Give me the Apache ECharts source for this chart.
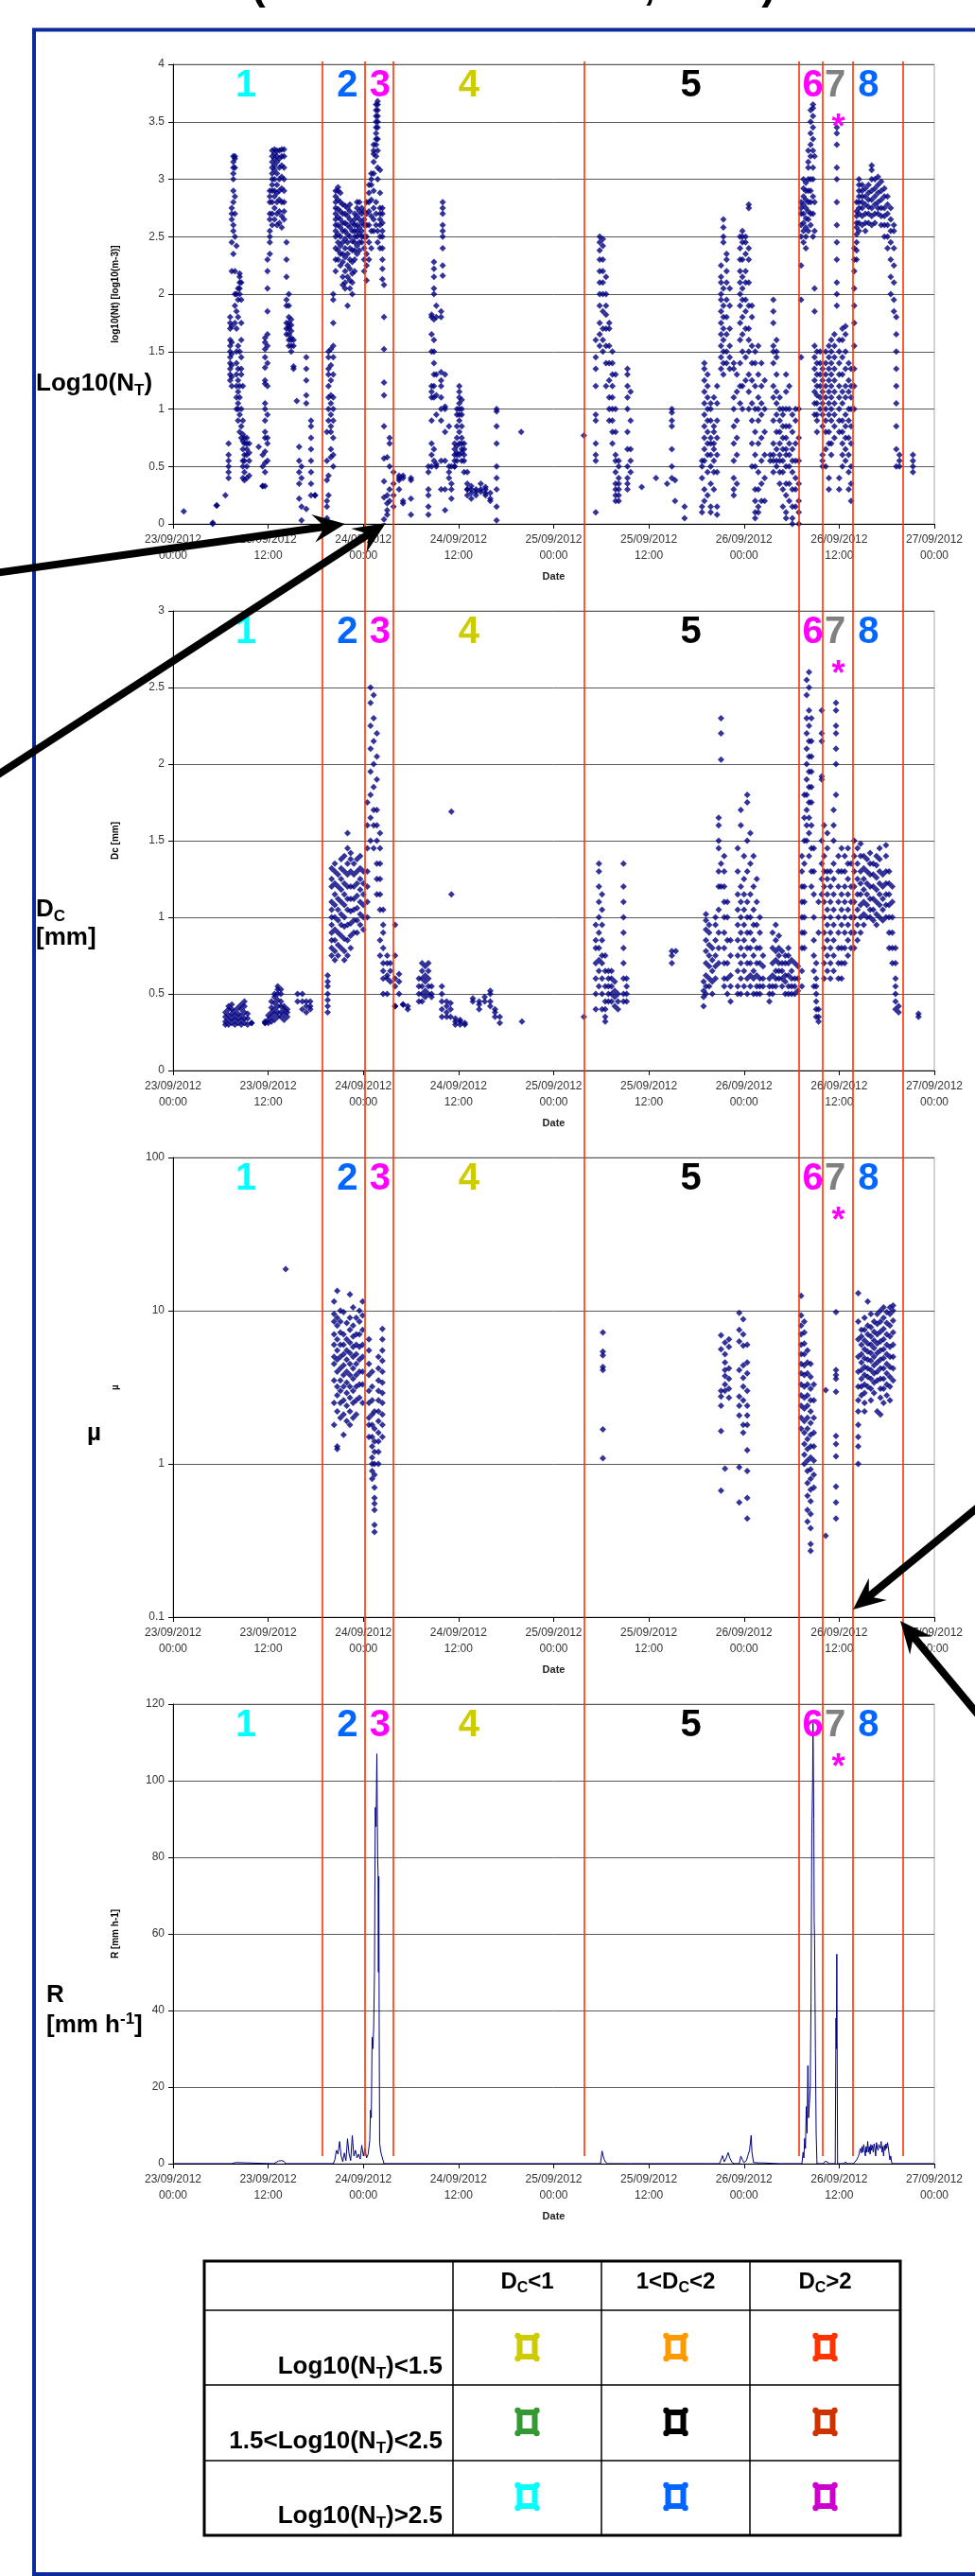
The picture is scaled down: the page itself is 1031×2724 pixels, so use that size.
<!DOCTYPE html>
<html><head><meta charset="utf-8">
<style>html,body{margin:0;padding:0;background:#fff}#c{width:1031px;height:2724px}</style>
<script src="https://cdn.jsdelivr.net/npm/echarts@6/dist/echarts.min.js"></script>
</head><body><div id="c"></div>
<script>
// ---------------- DATA (hours after 23/09/2012 00:00) ----------------
const xTickLabels = ['23/09/2012\n00:00','23/09/2012\n12:00','24/09/2012\n00:00','24/09/2012\n12:00','25/09/2012\n00:00','25/09/2012\n12:00','26/09/2012\n00:00','26/09/2012\n12:00','27/09/2012\n00:00'];
const boundaryTimes = [18.85, 24.2, 27.7, 51.8, 78.9, 81.9, 85.7, 92.0];
const segNames  = ['1','2','3','4','5','6','7','8'];
const segColors = ['#00FFFF','#0066FF','#FF00FF','#CCCC00','#000000','#FF00FF','#808080','#0066FF'];
const segTimes  = [9.2, 22.0, 26.1, 37.3, 65.3, 80.7, 83.5, 87.7];
const starTime = 83.9;

// Log10(NT) columns: [hour, [values]]
const ntCols = [
[1.35,[0.11]],[5.0,[0.0,0.01]],[5.5,[0.16,0.16]],[6.6,[0.25]],
[7.0,[0.4,0.45,0.5,0.55,0.6,0.7]],
[7.2,[1.25,1.3,1.35,1.4,1.45,1.5,1.55,1.6,1.7,1.75,1.8]],
[7.4,[1.2,1.28,1.38,1.48,1.58,1.72,2.2,2.45,2.65,2.7,2.75]],
[7.6,[2.8,2.9,3.0,3.05,3.1,3.15,3.2,2.6,2.55,2.35]],
[7.8,[1.9,2.0,2.2,2.5,2.7,2.85,3.1,3.18,3.2,1.75]],
[8.0,[1.0,1.1,1.2,1.3,1.4,1.5,1.7,1.85,2.0,2.42]],
[8.2,[0.9,1.0,1.05,1.15,1.25,1.35,1.55,1.8,1.95,2.05]],
[8.4,[0.8,0.95,1.1,1.2,1.5,2.0,2.05,2.1,2.15,2.18]],
[8.6,[0.75,0.85,1.0,1.3,1.35,1.45,1.6,1.75,1.95,2.1]],
[8.8,[0.4,0.5,0.55,0.65,0.72,0.78,0.9,1.2]],
[9.0,[0.38,0.45,0.55,0.6,0.7,0.75]],
[9.3,[0.4,0.5,0.6,0.65,0.7,0.75]],
[9.6,[0.42,0.55,0.62,0.7]],
[10.8,[0.67]],[11.3,[0.33,0.33,0.5,0.6]],
[11.6,[0.33,0.45,0.53,0.63,0.75,0.8,0.9,1.0,1.05,1.22,1.25,1.36,1.45,1.52,1.58,1.62]],
[11.9,[0.55,0.7,0.75,0.95,1.2,1.4,1.55,1.65,1.85,2.05,2.2,2.3]],
[12.2,[2.35,2.45,2.5,2.55,2.65,2.7,2.8,2.85,2.9]],
[12.5,[2.6,2.7,2.8,2.9,2.95,3.0,3.05,3.1,3.15,3.2,3.25]],
[12.8,[2.65,2.75,2.85,2.9,3.0,3.08,3.12,3.18,3.22,3.26]],
[13.1,[2.6,2.7,2.8,2.88,2.95,3.05,3.15,3.2,3.25]],
[13.4,[2.62,2.72,2.82,2.9,3.0,3.1,3.18,3.25]],
[13.7,[2.58,2.68,2.8,2.92,3.02,3.12,3.2,3.26]],
[14.0,[2.65,2.72,2.8,2.9,3.0,3.1,3.2,3.26]],
[14.3,[2.45,2.3,2.15,1.95,1.9,1.75,1.7,1.65]],
[14.6,[1.55,1.6,1.65,1.7,1.72,1.75,1.8,1.9,2.0]],
[14.9,[1.5,1.55,1.6,1.62,1.68,1.73,1.78]],
[15.2,[1.35,1.37,1.55,1.6]],[15.6,[1.07]],
[15.9,[0.67,0.55,0.45,0.35,0.22]],[16.2,[0.15,0.03,0.4,0.5]],
[16.8,[1.45,1.35,1.25,1.12,1.05,0.13]],
[17.4,[0.9,0.85,0.75,0.65,0.55,0.45,0.35,0.25]],[17.9,[0.25,0.25]],
[19.4,[0.05,0.15,0.2,0.38,0.55,0.8]],
[19.6,[0.9,1.0,1.1,1.2,1.3,1.35,1.45,1.5,0.42,0.25]],
[19.9,[0.8,0.85,0.95,1.05,1.12,1.25,1.38,1.52,0.58,0.65]],
[20.2,[0.5,0.6,0.75,0.9,1.0,1.1,1.3,1.45,1.55,1.75,1.95,2.0]],
[20.5,[2.2,2.3,2.4,2.5,2.55,2.6,2.65,2.7,2.75,2.8,2.85,2.9]],
[20.8,[2.3,2.38,2.45,2.52,2.6,2.67,2.74,2.82,2.9,2.93]],
[21.1,[2.25,2.35,2.42,2.5,2.58,2.65,2.72,2.8,2.88]],
[21.4,[2.08,2.15,2.28,2.35,2.45,2.55,2.62,2.7,2.78]],
[21.7,[2.05,2.1,2.2,2.32,2.4,2.48,2.55,2.62,2.7,2.77]],
[22.0,[1.9,2.15,2.25,2.35,2.45,2.52,2.6,2.68,2.75]],
[22.3,[2.05,2.12,2.22,2.3,2.4,2.5,2.58,2.65,2.72,2.78]],
[22.6,[2.0,2.1,2.18,2.28,2.38,2.46,2.55,2.62]],
[22.9,[2.2,2.3,2.38,2.45,2.5,2.55,2.6,2.65,2.7]],
[23.2,[2.35,2.42,2.5,2.55,2.6,2.68,2.75,2.8]],
[23.5,[2.38,2.45,2.52,2.58,2.65,2.72,2.8]],
[23.8,[2.45,2.5,2.55,2.62,2.7,2.75]],
[24.1,[2.2,2.3,2.4,2.5,2.6,2.65,2.72]],
[24.4,[2.12,2.25,2.35,2.5,2.6,2.7,2.8]],
[24.7,[2.3,2.45,2.6,2.72,2.8,2.88,2.95]],
[25.0,[2.4,2.55,2.68,2.82,2.95,3.0,3.05]],
[25.3,[2.55,2.65,2.75,2.9,3.05,3.15,3.22,3.25,3.3]],
[25.6,[2.6,2.7,2.8,3.2,3.3,3.35,3.4,3.45,3.5,3.55,3.6,3.65]],
[25.8,[2.45,2.55,3.0,3.1,3.25,3.35,3.45,3.5,3.55,3.6,3.65,3.68]],
[26.1,[2.4,2.5,2.6,2.65,2.7,2.75,2.88,3.08]],
[26.4,[2.13,2.22,2.3,2.4,2.5,2.55,2.62,2.7,2.75]],
[26.6,[2.08,1.8,1.52,1.23,1.12,0.85,0.57,0.37,0.23,0.04]],
[27.0,[0.08,0.12,0.18,0.25,0.58]],[27.3,[0.2,0.3,0.5,0.75,0.7]],
[27.8,[0.15,0.25,0.35,0.45]],[28.5,[0.3,0.38,0.4,0.42]],
[29.0,[0.4,0.42,0.2,0.18]],[30.0,[0.38,0.22,0.08,0.4]],
[32.2,[0.08,0.15,0.25,0.3,0.45,0.5]],
[32.6,[0.5,0.6,0.7,0.9,1.1,1.15,1.2,1.5,1.65,1.8,1.82]],
[32.9,[0.55,0.65,1.1,1.2,1.3,1.4,1.5,1.6,1.78,2.0,2.05,2.15,2.22,2.28]],
[33.2,[0.5,0.52,0.95,1.12,1.3,1.8,1.9]],
[33.8,[0.3,0.55,0.9,1.0,1.1,1.2,1.25,1.32,1.8,1.85]],
[34.0,[2.16,2.25,2.4,2.5,2.55,2.6,2.7,2.75,2.8]],
[34.3,[0.12,0.3,0.55,0.8,1.0,1.02,1.3]],
[34.8,[0.4,0.45,0.5,0.85]],[35.1,[0.22,0.3,0.35,0.5]],
[35.5,[0.5,0.55,0.6,0.65,0.7,0.5]],
[35.8,[0.55,0.6,0.62,0.68,0.75,0.85,0.95,1.0]],
[36.1,[0.6,0.7,0.8,0.9,0.95,1.0,1.05,1.1,1.15,1.2]],
[36.4,[0.55,0.62,0.65,0.7,0.75,0.85,0.95,1.0,1.08]],
[36.7,[0.45,0.55,0.6,0.65,0.7]],
[37.1,[0.25,0.3,0.35,0.3,0.45]],[37.6,[0.22,0.27,0.3,0.33]],
[38.2,[0.25,0.3,0.28]],[38.8,[0.28,0.35,0.3]],[39.4,[0.25,0.3,0.32,0.27]],
[40.0,[0.22,0.27,0.2]],
[40.8,[0.03,0.15,0.3,0.4,0.5,0.7,0.85,0.98,1.0]],
[43.9,[0.8]],[51.8,[0.77]],
[53.3,[0.1,0.55,0.6,0.7,0.9,1.2,1.35,1.45,1.6,0.95]],
[53.8,[1.55,1.65,1.75,1.9,2.0,2.1,2.2,2.3,2.38,2.45,2.5]],
[54.2,[1.5,1.6,1.7,1.85,2.0,2.1,2.2,2.3,2.42,2.48]],
[54.6,[1.2,1.4,1.55,1.7,1.82,1.9,2.0,2.15]],
[55.0,[0.9,1.0,1.1,1.25,1.4,1.55,1.7,1.75]],
[55.4,[0.7,0.8,0.9,1.0,1.1,1.2,1.3,1.4,1.5]],
[55.8,[0.2,0.25,0.3,0.35,0.45,0.55,0.6,0.8,1.0,1.3]],
[56.2,[0.2,0.25,0.3,0.35,0.4,0.5,0.55]],
[57.3,[0.3,0.35,0.4,0.5,0.65,0.8,1.0,1.1,1.2,1.3,1.35]],
[57.7,[0.45,0.55,0.65,0.9,1.15]],
[59.1,[0.32]],[60.9,[0.4]],[62.3,[0.35]],
[62.9,[0.4,0.5,0.85,0.9,1.0,0.97,0.65]],[63.3,[0.2,0.38]],[64.5,[0.05,0.15]],
[66.7,[0.1,0.15,0.4,0.5,0.55]],
[67.0,[0.2,0.3,0.55,0.65,0.75,0.85,0.95,1.05,1.15,1.25,1.35,1.4]],
[67.4,[0.25,0.45,0.6,0.7,0.8,0.9,1.0,1.1,1.2,1.3]],
[67.8,[0.1,0.15,0.35,0.5,0.6,0.7,0.75,0.9,1.0,1.05]],
[68.2,[0.3,0.45,0.55,0.65,0.7,0.8,0.85,1.1]],
[68.6,[0.08,0.15,0.45,0.6,0.75,0.9,1.05,1.2]],
[69.1,[1.35,1.45,1.55,1.65,1.75,1.85,1.95,2.0,2.1,2.15,2.25]],
[69.4,[1.3,1.4,1.5,1.6,1.7,1.8,1.9,2.05,2.45,2.5,2.58,2.65]],
[69.8,[1.4,1.5,1.65,1.8,1.95,2.1,2.2,2.3,2.35]],
[70.2,[1.35,1.45,1.55,1.7,1.9,2.05]],
[70.7,[0.25,0.3,0.4,0.55,0.7,0.85,1.0,1.1,1.35,1.4]],
[71.1,[0.35,0.6,0.75,0.9,1.15,1.3]],
[71.5,[1.05,1.2,1.4,1.6,1.75,1.9,2.0,2.1,2.2,2.3,2.4,2.5]],
[71.8,[1.0,1.2,1.5,1.65,1.8,1.95,2.05,2.15,2.3,2.45,2.5,2.55]],
[72.2,[1.25,1.45,1.7,1.85,1.95,2.1,2.2,2.35,2.45,2.5]],
[72.6,[1.0,1.15,1.3,1.5,1.6,1.7,1.9,2.1,2.3,2.4,2.75,2.78]],
[73.0,[0.5,0.7,0.9,1.05,1.25,1.4,1.55,1.8,1.9]],
[73.4,[0.05,0.1,0.2,0.3,0.5,0.6,0.8,1.0,1.2,1.4,1.5]],
[73.8,[0.1,0.15,0.3,0.45,0.7,0.9,1.0,1.1,1.3,1.55]],
[74.2,[0.2,0.35,0.55,0.75,0.95,1.05,1.2,1.4]],
[74.6,[0.2,0.4,0.6,0.8,1.0,1.25]],[75.3,[0.55,0.6]],
[75.7,[0.45,0.55,0.6,0.7,0.9,1.1,1.2,1.4,1.5,1.55,1.75,1.85,1.95]],
[76.1,[0.5,0.55,0.65,0.8,0.95,1.05,1.15,1.3,1.45,1.5,1.6]],
[76.5,[0.35,0.45,0.55,0.6,0.7,0.8,0.9,1.0,1.1]],
[76.9,[0.15,0.3,0.45,0.55,0.65,0.75,0.85,0.95,1.0]],
[77.3,[0.05,0.1,0.25,0.35,0.5,0.6,0.65,0.75,0.85,1.0,1.15,1.3]],
[77.7,[0.2,0.35,0.5,0.6,0.7,0.85,1.0,1.2]],
[78.1,[0.0,0.05,0.15,0.3,0.45,0.55,0.65,0.8,0.95]],
[78.5,[0.15,0.3,0.4,0.55,0.7,0.9,1.0]],
[78.9,[0.0,0.1,0.2,0.35,0.55,0.75,1.0]],
[79.2,[1.45,1.95,2.25,2.5,2.6,2.7,2.75,2.8]],
[79.5,[2.45,2.55,2.62,2.7,2.78,2.85,2.92,3.0]],
[79.8,[2.4,2.5,2.58,2.66,2.75,2.82,2.9,2.97]],
[80.1,[2.55,2.65,2.72,2.8,2.9,3.0,3.1,3.15,3.25]],
[80.4,[2.6,2.7,2.8,2.9,3.0,3.2,3.3,3.4,3.5,3.6]],
[80.7,[2.5,2.7,2.85,3.0,3.1,3.25,3.35,3.45,3.55,3.62,3.65]],
[80.9,[0.95,1.05,1.15,1.25,1.35,1.45,1.55,1.85,2.05,2.55,2.8,3.2]],
[81.2,[0.9,0.95,1.05,1.12,1.2,1.3,1.4,1.5,0.8]],
[81.6,[1.0,1.1,1.2,1.3,1.4,1.5]],
[81.9,[0.85,0.95,1.05,1.15,1.25,1.35,0.5,0.55,0.6]],
[82.3,[0.65,0.8,0.9,1.0,1.1,1.2,1.3,1.4,1.5,0.5]],
[82.7,[0.7,0.8,0.95,1.05,1.15,1.25,1.35,1.45,1.55,0.4,0.3]],
[83.0,[0.9,1.0,1.1,1.2,1.3,1.4,1.5,1.6,0.6,0.7]],
[83.4,[0.75,0.85,0.95,1.05,1.15,1.25,1.35,1.45,1.55,1.65]],
[83.7,[1.9,2.0,2.1,2.3,2.45,2.6,2.8,3.0,3.1,3.3,3.4,3.45]],
[84.0,[0.8,0.9,1.0,1.1,1.2,1.3,1.4,1.5,1.6,0.3,0.4]],
[84.4,[0.5,0.6,0.7,0.8,0.9,1.05,1.15,1.3,1.45,1.6,1.7]],
[84.8,[0.55,0.65,0.75,0.85,0.95,1.1,1.2,1.35,1.5,1.65,1.72]],
[85.2,[0.3,0.45,0.6,0.75,0.9,1.0,1.15,1.25,1.4]],
[85.5,[0.2,0.35,0.5,0.7,0.85,1.0,1.1,1.2,1.35]],
[85.9,[1.0,1.2,1.35,1.55,1.75,1.9,2.05,2.2,2.3,2.4]],
[86.2,[2.3,2.38,2.45,2.52,2.58,2.62,2.68,2.72,2.8]],
[86.5,[2.55,2.62,2.7,2.75,2.8,2.85,2.9,2.95,3.0]],
[86.9,[2.6,2.68,2.75,2.8,2.85,2.9,2.95]],
[87.3,[2.55,2.62,2.7,2.78,2.85,2.92]],
[87.7,[2.62,2.7,2.76,2.82,2.88,2.95]],
[88.1,[2.6,2.68,2.75,2.82,2.9,3.0,3.08,3.12]],
[88.5,[2.62,2.7,2.78,2.85,2.92,3.0]],
[88.9,[2.7,2.75,2.8,2.88,2.95,3.02]],
[89.3,[2.6,2.68,2.75,2.82,2.9,2.98]],
[89.7,[2.5,2.6,2.68,2.75,2.85,2.92]],
[90.1,[2.4,2.5,2.6,2.7,2.78,2.85]],
[90.5,[2.0,2.15,2.3,2.45,2.55,2.65,2.75]],
[90.9,[1.85,1.95,2.1,2.25,2.4,2.55,2.6]],
[91.2,[0.5,0.65,0.85,1.05,1.2,1.35,1.5,1.65,1.8]],
[91.6,[0.5,0.55,0.6]],[93.3,[0.45,0.5,0.55,0.6]]
];

// Dc [mm] columns
const dcCols = [
[6.6,[0.3,0.32,0.35,0.38]],[7.0,[0.3,0.33,0.36,0.4,0.42]],[7.4,[0.31,0.34,0.37,0.4,0.43]],
[7.8,[0.3,0.33,0.36,0.39]],[8.2,[0.31,0.34,0.37,0.41]],[8.6,[0.3,0.33,0.36,0.4,0.43]],
[9.0,[0.31,0.34,0.38,0.42,0.45]],[9.4,[0.3,0.34,0.37]],[9.9,[0.31,0.31]],
[11.6,[0.31,0.31,0.32]],[12.0,[0.31,0.33,0.36]],[12.4,[0.32,0.35,0.38,0.41,0.45]],
[12.8,[0.33,0.37,0.4,0.44,0.48,0.5]],[13.2,[0.35,0.38,0.42,0.46,0.5,0.53,0.55]],
[13.6,[0.35,0.38,0.42,0.45,0.5,0.53]],[14.0,[0.33,0.37,0.4,0.42]],[14.4,[0.35,0.38,0.4]],
[15.7,[0.45,0.5]],[16.3,[0.4,0.45,0.5]],[16.8,[0.38,0.42,0.45]],[17.3,[0.4,0.42,0.45]],
[19.5,[0.38,0.42,0.46,0.5,0.55,0.58,0.62]],
[20.0,[0.75,0.8,0.85,0.9,0.95,1.0,1.05,1.1,1.2,1.25,1.32]],
[20.4,[0.72,0.78,0.85,0.92,1.0,1.08,1.15,1.22,1.3,1.35]],
[20.8,[0.75,0.82,0.9,0.98,1.05,1.12,1.2,1.28]],
[21.2,[0.8,0.88,0.95,1.02,1.1,1.18,1.25,1.32,1.38]],
[21.6,[0.72,0.78,0.86,0.94,1.0,1.08,1.15,1.22,1.3,1.4]],
[22.0,[0.75,0.85,0.95,1.05,1.12,1.2,1.28,1.35,1.45,1.55]],
[22.4,[0.8,0.88,0.96,1.04,1.12,1.2,1.3,1.38,1.42]],
[22.8,[0.9,0.98,1.05,1.12,1.2,1.28,1.35]],
[23.2,[0.9,0.98,1.06,1.14,1.22,1.3,1.38]],
[23.6,[0.95,1.02,1.1,1.18,1.25,1.32,1.4]],
[24.0,[0.92,1.0,1.08,1.15,1.22,1.3]],
[24.5,[1.0,1.1,1.2,1.3,1.45,1.6,1.75]],
[24.9,[1.5,1.65,1.8,1.95,2.1,2.25,2.4,2.5]],
[25.3,[1.45,1.6,1.7,1.85,2.0,2.15,2.3,2.45]],
[25.7,[1.15,1.25,1.35,1.5,1.6,1.7,1.9,2.05,2.2]],
[26.1,[0.75,0.85,1.05,1.15,1.25,1.35,1.45,1.55]],
[26.5,[0.5,0.6,0.65,0.7,0.8,0.9,1.05,0.95]],
[27.0,[0.5,0.6,0.62,0.7,0.75]],[27.4,[0.58,0.65,0.7]],
[28.0,[0.42,0.42,0.55,0.6,0.75,0.95]],[28.5,[0.5,0.58,0.63]],[29.0,[0.43,0.43]],[29.6,[0.4,0.42]],
[31.0,[0.45,0.5,0.55,0.6]],[31.4,[0.45,0.5,0.55,0.6,0.65,0.7]],[31.8,[0.48,0.52,0.58,0.62,0.68]],
[32.2,[0.5,0.55,0.6,0.65,0.7]],[32.6,[0.48,0.5,0.55]],
[33.9,[0.35,0.4,0.45,0.5,0.55]],[34.5,[0.35,0.38,0.42,0.45]],[35.0,[0.35,0.4,0.44]],
[35.1,[1.69,1.15]],[35.6,[0.3,0.32,0.34]],[36.2,[0.3,0.32,0.33]],[36.8,[0.3,0.31]],
[37.8,[0.45,0.47]],[38.6,[0.4,0.43,0.45]],[39.3,[0.45,0.48]],[40.0,[0.42,0.45,0.5,0.52]],
[40.6,[0.35,0.38,0.4]],[41.2,[0.31,0.35]],[44.0,[0.32]],[51.8,[0.35]],
[53.3,[0.4,0.5,0.6,0.7,0.8,0.85,0.95]],
[53.7,[0.55,0.65,0.72,0.8,0.9,1.0,1.1,1.2,1.3,1.35]],
[54.1,[0.4,0.5,0.6,0.7,0.75,0.85,0.95,1.05,1.15]],
[54.5,[0.32,0.35,0.4,0.45,0.55,0.65,0.75]],
[54.9,[0.45,0.5,0.55,0.6,0.65]],[55.3,[0.45,0.5,0.55,0.6,0.65]],
[55.7,[0.42,0.48,0.52,0.58]],[56.1,[0.4,0.45,0.5]],
[56.8,[0.45,0.5,0.6,0.7,0.8,0.9,1.0,1.1,1.2,1.35]],[57.2,[0.45,0.5,0.55,0.6]],
[62.9,[0.7,0.75,0.78]],[63.4,[0.78]],
[66.9,[0.42,0.48,0.52,0.58]],
[67.2,[0.5,0.55,0.62,0.7,0.78,0.85,0.92,0.98,1.02]],
[67.6,[0.55,0.6,0.68,0.75,0.82,0.9,0.95]],
[68.0,[0.5,0.58,0.65,0.72,0.8]],
[68.4,[0.6,0.68,0.75,0.85,0.95,1.0]],
[68.8,[0.7,0.8,0.9,1.05,1.2,1.3,1.45,1.5,1.6,1.65]],
[69.1,[2.03,2.2,2.3,1.35,1.2]],
[69.5,[0.6,0.7,0.8,0.9,1.0,1.1,1.2,1.3,1.4,0.55]],
[69.9,[0.5,0.6,0.7,0.85,1.0,1.1]],
[70.3,[0.45,0.55,0.62,0.75,0.85]],
[71.2,[0.5,0.55,0.65,0.75,0.85,0.95,1.05,1.15,1.3,1.45]],
[71.6,[0.5,0.6,0.7,0.8,0.9,1.0,1.1,1.2,1.6,1.7]],
[72.0,[0.55,0.65,0.75,0.85,0.95,1.05,1.15,1.25,1.4]],
[72.4,[0.5,0.6,0.7,0.8,0.9,1.0,1.1,1.3,1.5,1.75,1.8]],
[72.8,[0.55,0.62,0.7,0.8,0.9,1.0,1.15,1.35,1.55]],
[73.2,[0.5,0.6,0.65,0.75,0.85,0.95,1.05,1.2,1.4]],
[73.6,[0.5,0.55,0.62,0.7,0.8,0.95,1.1,1.25]],
[74.0,[0.5,0.55,0.6,0.7,0.8,0.9,1.0]],
[74.4,[0.55,0.6,0.68,0.75]],
[75.2,[0.45,0.5,0.55,0.6]],
[75.6,[0.5,0.55,0.62,0.7,0.8,0.9]],
[76.0,[0.55,0.6,0.65,0.72,0.78,0.85,0.95]],
[76.4,[0.6,0.65,0.7,0.75,0.8,0.88]],
[76.8,[0.55,0.6,0.65,0.7,0.78]],
[77.2,[0.5,0.58,0.62,0.7,0.75]],
[77.6,[0.5,0.55,0.62,0.7,0.8,0.75]],
[78.0,[0.5,0.55,0.6,0.65,0.72]],
[78.4,[0.5,0.55,0.6,0.7]],[78.8,[0.52,0.6,0.68]],
[79.3,[0.55,0.65,0.8,0.9,1.0,1.1,1.2,1.3,1.4]],
[79.6,[0.8,0.9,1.0,1.1,1.2,1.35,1.5,1.65,1.8]],
[79.9,[1.5,1.6,1.7,1.8,1.9,2.0,2.1,2.2,2.3,2.45,2.55]],
[80.2,[1.4,1.55,1.65,1.75,1.85,1.95,2.05,2.15,2.25,2.35,2.5,2.6]],
[80.5,[1.2,1.3,1.45,1.6,1.75,1.85,1.95,2.05,2.15,2.3]],
[80.8,[0.55,0.65,0.75,0.85,1.0,1.15,1.3,1.45]],
[81.1,[0.35,0.4,0.45,0.5,0.55,0.6,0.7]],
[81.4,[0.32,0.35,0.4,0.9,1.1]],
[81.8,[1.15,1.25,1.35,1.5,1.9,1.92,2.15,2.2,2.35]],
[82.1,[0.6,0.7,0.8,0.9,1.0,1.1,1.2,1.3,1.4,1.6]],
[82.5,[0.65,0.75,0.85,0.95,1.05,1.15,1.25,1.3,1.45,1.55]],
[82.9,[0.6,0.7,0.8,0.9,1.0,1.1,1.2,1.3]],
[83.3,[0.65,0.75,0.85,0.95,1.05,1.15,1.25,1.35,1.5,1.6,1.7]],
[83.6,[1.8,2.0,2.1,2.2,2.25,2.35,2.4]],
[83.9,[0.6,0.7,0.8,0.9,1.0,1.1,1.2,1.3,1.4]],
[84.3,[0.6,0.7,0.8,0.95,1.05,1.15,1.3,1.45]],
[84.7,[0.7,0.8,0.9,1.0,1.1,1.2,1.3,1.4]],
[85.1,[0.75,0.85,0.95,1.05,1.15,1.25,1.35,1.45]],
[85.5,[0.8,0.9,1.0,1.1,1.2,1.35]],
[85.9,[0.8,0.9,1.0,1.1,1.2,1.3,1.4,1.5]],
[86.3,[0.85,0.95,1.05,1.15,1.25,1.35,1.45]],
[86.7,[0.9,1.0,1.08,1.15,1.22,1.3,1.4,1.48]],
[87.1,[0.95,1.02,1.1,1.18,1.25,1.32,1.4]],
[87.5,[1.0,1.08,1.15,1.22,1.3,1.38]],
[87.9,[1.0,1.05,1.12,1.2,1.28,1.35,1.42]],
[88.3,[0.98,1.05,1.12,1.2,1.28,1.35]],
[88.7,[0.95,1.02,1.1,1.18,1.26,1.34,1.4]],
[89.1,[1.0,1.08,1.15,1.22,1.3,1.38,1.45]],
[89.5,[0.98,1.05,1.12,1.2,1.28]],
[89.9,[1.0,1.08,1.15,1.22,1.3,1.4,1.47]],
[90.3,[0.8,0.9,1.0,1.08,1.15,1.22,1.3]],
[90.7,[0.7,0.8,0.9,1.0,1.1,1.2]],
[91.1,[0.4,0.45,0.5,0.55,0.6,0.7,0.8]],
[91.5,[0.38,0.42]],[94.0,[0.35,0.37]]
];

// mu columns
const muCols = [
[14.2,[18.7]],
[20.3,[11.5,9.5,8.5,7,6,5,4.5,3.5,2.5,1.8]],
[20.7,[13.5,9,8,6.5,5.5,4.8,4,3.2,2.8,2.2,1.25,1.3]],
[21.1,[10,8.5,7.2,6,5,4.2,3.5,3,2.5,2]],
[21.5,[9.8,7,6,5.2,4.4,3.8,3.2,2.6,2.1,1.55]],
[21.9,[8.3,6.5,5.5,4.8,4,3.4,2.9,2.4,1.9]],
[22.3,[12.8,9,7.5,6.2,5.3,4.5,3.8,3.2,2.7,2.2,1.8]],
[22.7,[10.5,8,6.8,5.8,5,4.2,3.6,3,2.5,2]],
[23.1,[9,7,6,5.2,4.5,3.8,3.2,2.6,2.1]],
[23.5,[10,8.5,7,5.8,4.8,4,3.3,2.7]],
[23.9,[11.5,9.3,7.5,6,5,4,3.3,2.5]],
[24.7,[6.5,5.5,4.5,3.8,3,2.5,2,1.8,1.5]],
[25.1,[4,3.2,2.6,2.1,1.8,1.5,1.3,1.1,1,0.9,0.8]],
[25.4,[2.2,1.7,1.4,1.2,1,0.85,0.7,0.6,0.55,0.5,0.4,0.36]],
[25.9,[5,4.2,3.5,3,2.6,2.2,1.9,1.6,1.4,1.2,1]],
[26.4,[7.6,6.5,5.5,4.7,4,3.4,2.9,2.5,2.1,1.8,1.5]],
[54.2,[7.2,5.4,5.1,4.3,4.1,1.68,1.09]],
[69.1,[6.9,5.6,3.0,2.75,2.4,1.64,0.67]],
[69.6,[6.2,5.2,4.6,4.1,3.75,3.3,3.0,0.93]],
[70.1,[6.5,5.8,4.2,3.6,3.1,2.7]],
[71.4,[9.7,7.5,6.3,4.1,2.75,2.4,2.07,0.95,0.56]],
[71.9,[8.8,7,5.9,4.4,3.65,3.2,2.6,1.8,1.6]],
[72.4,[6.0,4.6,3.9,3.0,2.4,2.07,1.8,1.23,0.9,0.6,0.44]],
[79.2,[12.5,9.3,8,7,6,5.2,4.5,3.9,3.3,2.8,2.4,2.0,1.7]],
[79.6,[8.5,7.2,6.1,5.2,4.4,3.8,3.2,2.7,2.3,1.9,1.6,1.35,1.15,1.0]],
[80.0,[5.5,4.6,3.9,3.3,2.8,2.4,2.0,1.7,1.45,1.25,1.05,0.9,0.75,0.62,0.5,0.42]],
[80.4,[4.5,3.7,3.1,2.6,2.2,1.85,1.55,1.3,1.1,0.92,0.8,0.68,0.57,0.47,0.38,0.3,0.27]],
[80.8,[3.3,2.6,2.0,1.6,1.3,1.05,0.85,0.7]],
[82.3,[3.03,0.34]],
[83.6,[9.8,4.1,3.8,3.6,2.96,1.52,1.35,1.12,0.71,0.56,0.44]],
[86.4,[13,8.5,6.5,5,4,3.2,2.6,2.2,1.8,1.5,1.3,1.0]],
[86.8,[7.5,6.8,6,5.2,4.6,4.1,3.6,3.2,2.8]],
[87.2,[9,7.5,6.4,5.6,4.9,4.3,3.8,3.3,2.9,2.5,2.2]],
[87.6,[11.5,8,7,6.1,5.4,4.8,4.2,3.7,3.2]],
[88.0,[9.5,7.8,6.8,6,5.3,4.7,4.1,3.6,3.1,2.6]],
[88.4,[8.5,7.3,6.4,5.7,5,4.4,3.9,3.4,2.9]],
[88.8,[9.5,8.2,7,6.1,5.3,4.6,4,3.5,2.2]],
[89.2,[10,8.5,7.3,6.3,5.5,4.8,4.2,3.6,3.1,2.7,2.1]],
[89.6,[10.5,9,7.6,6.5,5.6,4.9,4.2,3.6,3.1,2.5]],
[90.0,[9.8,8.3,7,6,5.2,4.5,3.9,3.3,2.8]],
[90.4,[10.5,9.5,8,6.8,5.8,5,4.3,3.7,3.2,2.6]],
[90.8,[10.8,10,8.6,7.2,6,5,4.2,3.5]]
];

// Rain rate R [mm h-1]: [hour, R]
const rain = [
[0,0],[7.4,0],[7.6,0.4],[7.9,0.3],[8.1,0],[12.7,0],[12.9,0.4],[13.3,0.7],[13.7,0.8],[14.0,0.6],[14.2,0],
[20.2,0],[20.4,1],[20.6,3.5],[20.8,2.5],[21.0,5.8],[21.2,2],[21.4,0.5],[21.6,2.8],[21.8,0.8],[22.0,6.5],
[22.2,2.5],[22.4,0.8],[22.6,7.4],[22.8,2],[23.0,3.5],[23.2,1.5],[23.4,2.5],[23.6,1.2],[23.8,4.8],[24.0,2],
[24.2,4],[24.4,1.5],[24.6,2.5],[24.8,6],[24.9,14],[25.0,12],[25.1,33],[25.2,30],[25.3,35.5],[25.4,50],
[25.5,93],[25.6,88],[25.7,107],[25.8,80],[25.85,76],[25.9,50],[25.95,75],[26.0,32],[26.05,5.4],[26.2,3],
[26.4,3.2],[26.6,0],[32.4,0],[32.6,0.3],[32.8,0],[34.5,0],[34.7,0.3],[34.9,0],[35.8,0],[36.0,0.3],[36.2,0],
[53.9,0],[54.1,3.3],[54.3,1.5],[54.5,0.5],[54.8,0],[57.4,0],[57.5,0.2],[57.7,0],
[67.8,0],[68.0,0.3],[68.2,0],[68.9,0],[69.1,1],[69.3,2.1],[69.5,0.5],[69.7,1.2],[70.0,2.9],[70.2,1.5],[70.5,0.3],[70.8,0],
[71.4,0],[71.6,2],[71.8,1],[72.0,0.3],[72.3,0.8],[72.5,2.2],[72.7,3.5],[72.9,7.4],[73.0,3],[73.2,0.3],[73.4,0],
[74.0,0.2],[74.4,0.2],[74.6,0],[76.5,0],[76.6,0.2],[76.8,0],
[79.3,0],[79.45,3],[79.55,1.5],[79.65,6.6],[79.75,4],[79.85,14.9],[79.95,8],[80.05,25.6],[80.15,12],[80.25,15.7],
[80.35,20],[80.45,42],[80.55,86],[80.65,100],[80.7,115],[80.8,90],[80.85,63.6],[80.9,58.7],[81.0,30],[81.1,7.9],[81.2,0],
[82.0,0],[82.2,0.6],[82.5,0.5],[82.7,0],[83.5,0],[83.6,38],[83.65,30],[83.7,54.7],[83.8,0],[84.6,0],[84.8,0.5],[85.0,0],
[85.8,0],[86.0,0.5],[86.2,1],[86.4,1.8],[86.5,2.5],[86.6,3.5],[86.7,4],[86.8,2.8],[86.9,4.5],[87.0,3],[87.1,5],[87.2,3.5],
[87.3,2],[87.4,4.5],[87.5,3],[87.6,5.8],[87.7,3],[87.8,4.5],[87.9,2.5],[88.0,5],[88.1,3.5],[88.2,4.8],[88.3,3],[88.4,5.2],
[88.5,4],[88.6,2],[88.7,5.5],[88.8,4.2],[88.9,3.5],[89.0,5],[89.2,4],[89.3,5.8],[89.4,3],[89.5,4.5],[89.6,2],[89.7,4.8],
[89.8,3.5],[89.9,5.2],[90.0,4],[90.1,5.5],[90.2,4.2],[90.3,2.5],[90.4,1],[90.5,2],[90.6,0.5],[90.7,0],[96,0]
];

// Legend table content
const tableCols = ['D_C<1', '1<D_C<2', 'D_C>2'];
const tableRows = ['Log10(N_T)<1.5', '1.5<Log10(N_T)<2.5', 'Log10(N_T)>2.5'];
const tableSymbolColors = [
  ['#CCCC00','#FF9900','#FF3300'],
  ['#339933','#000000','#CC3300'],
  ['#00FFFF','#0066FF','#CC00CC']
];
const bigLabels = ['Log10(N_T)', 'D_C\n[mm]', 'µ', 'R\n[mm h^-1]'];
const axisTitles = ['log10(Nt) [log10(m-3)]', 'Dc [mm]', 'µ', 'R [mm h-1]'];

// ---------------- CHART ----------------
const FONT = '"Liberation Sans", Arial, Helvetica, sans-serif';
const GL = 183, GR = 43, GH = 486;
const gridTops = [68, 646, 1224, 1802];
const flat = cols => { const o = []; cols.forEach(([h, vs]) => vs.forEach(v => o.push([h, v]))); return o; };

const chart = echarts.init(document.getElementById('c'), null, {renderer: 'canvas', width: 1031, height: 2724});

const grids = gridTops.map(t => ({left: GL, right: GR, top: t, height: GH, show: true, borderColor: '#a6a6a6', borderWidth: 1, backgroundColor: 'transparent', containLabel: false, outerBoundsMode: 'none'}));
grids.push({left: GL, right: GR, top: 65, height: 2215, show: false, containLabel: false, outerBoundsMode: 'none'});

const xAxes = gridTops.map((t, i) => ({
  type: 'value', gridIndex: i, min: 0, max: 96, interval: 12,
  axisLine: {show: true, onZero: false, lineStyle: {color: '#000', width: 1}},
  axisTick: {show: true, length: 5, lineStyle: {color: '#000'}},
  axisLabel: {formatter: v => xTickLabels[Math.round(v / 12)] || '', color: '#333', fontSize: 12, lineHeight: 17, margin: 8, fontFamily: FONT},
  splitLine: {show: false},
  name: 'Date', nameLocation: 'middle', nameGap: 50,
  nameTextStyle: {fontWeight: 'bold', fontSize: 11, color: '#222', fontFamily: FONT}
}));
xAxes.push({type: 'value', gridIndex: 4, min: 0, max: 96, show: false});

const yBase = (i) => ({
  gridIndex: i,
  axisLine: {show: true, lineStyle: {color: '#000', width: 1}},
  axisTick: {show: true, length: 5, lineStyle: {color: '#000'}},
  axisLabel: {color: '#333', fontSize: 12, margin: 9, fontFamily: FONT},
  splitLine: {show: true, lineStyle: {color: '#5a5a5a', width: 1}},
  minorTick: {show: false}, minorSplitLine: {show: false},
  name: axisTitles[i], nameLocation: 'middle', nameGap: 56,
  nameTextStyle: {fontWeight: 'bold', fontSize: 10, color: '#000', fontFamily: FONT}
});
const yAxes = [
  Object.assign(yBase(0), {type: 'value', min: 0, max: 4, interval: 0.5}),
  Object.assign(yBase(1), {type: 'value', min: 0, max: 3, interval: 0.5}),
  Object.assign(yBase(2), {type: 'log', min: 0.1, max: 100, logBase: 10}),
  Object.assign(yBase(3), {type: 'value', min: 0, max: 120, interval: 20}),
  {type: 'value', gridIndex: 4, min: 0, max: 1, show: false}
];

const scatterStyle = {type: 'scatter', symbol: 'diamond', symbolSize: 7, itemStyle: {color: '#000080'}, silent: true, z: 3};
const series = [
  Object.assign({}, scatterStyle, {xAxisIndex: 0, yAxisIndex: 0, data: flat(ntCols)}),
  Object.assign({}, scatterStyle, {xAxisIndex: 1, yAxisIndex: 1, data: flat(dcCols)}),
  Object.assign({}, scatterStyle, {xAxisIndex: 2, yAxisIndex: 2, data: flat(muCols)}),
  {type: 'line', xAxisIndex: 3, yAxisIndex: 3, data: rain, showSymbol: false, symbol: 'none', silent: true, lineStyle: {color: '#000080', width: 1}, z: 3},
  {type: 'line', xAxisIndex: 4, yAxisIndex: 4, data: [[0, -5]], showSymbol: false, symbol: 'none', silent: true, lineStyle: {opacity: 0}, z: 6,
   markLine: {silent: true, symbol: ['none', 'none'], label: {show: false}, animation: false,
     lineStyle: {color: '#FF3300', width: 1.6, type: 'solid'},
     data: boundaryTimes.map(t => ({xAxis: t}))}}
];

chart.setOption({animation: false, grid: grids, xAxis: xAxes, yAxis: yAxes, series: series});

// ---------------- GRAPHIC ANNOTATIONS ----------------
const mctx = document.createElement('canvas').getContext('2d');
function measure(t, size) { mctx.font = 'bold ' + size + 'px ' + FONT; return mctx.measureText(t).width; }
function parseParts(s) {
  const parts = []; let buf = '';
  for (let i = 0; i < s.length; i++) {
    const c = s[i];
    if (c === '_') { if (buf) { parts.push({t: buf, k: 'n'}); buf = ''; } parts.push({t: s[i + 1], k: 'sub'}); i++; }
    else if (c === '^') { if (buf) { parts.push({t: buf, k: 'n'}); buf = ''; } let j = i + 1, sup = ''; while (j < s.length && /[-0-9]/.test(s[j])) { sup += s[j]; j++; } parts.push({t: sup, k: 'sup'}); i = j - 1; }
    else buf += c;
  }
  if (buf) parts.push({t: buf, k: 'n'});
  return parts;
}
function txt(t, x, y, font, fill, align) {
  return {type: 'text', x: x, y: y, z: 60, silent: true,
    style: {text: t, font: font, fill: fill || '#000', align: align || 'left', verticalAlign: 'middle', textAlign: align || 'left', textVerticalAlign: 'middle'}};
}
function richText(s, x, y, size, align, color) {
  const parts = parseParts(s); const small = Math.round(size * 0.65);
  const ws = parts.map(p => measure(p.t, p.k === 'n' ? size : small));
  const total = ws.reduce((a, b) => a + b, 0);
  let cx = align === 'right' ? x - total : align === 'center' ? x - total / 2 : x;
  return parts.map((p, i) => {
    const fs = p.k === 'n' ? size : small;
    const dy = p.k === 'sub' ? size * 0.28 : p.k === 'sup' ? -size * 0.27 : 0;
    const el = txt(p.t, cx, y + dy, 'bold ' + fs + 'px ' + FONT, color, 'left');
    cx += ws[i];
    return el;
  });
}
function arrow(x1, y1, x2, y2) {
  const w = 8, hl = 34, hw = 30, notch = 9;
  const dx = x2 - x1, dy = y2 - y1, L = Math.hypot(dx, dy);
  const ux = dx / L, uy = dy / L, px = -uy, py = ux;
  const bx = x2 - ux * hl, by = y2 - uy * hl;
  const nx = bx + ux * notch, ny = by + uy * notch;
  const pts = [
    [x1 + px * w / 2, y1 + py * w / 2], [nx + px * w / 2, ny + py * w / 2],
    [bx + px * hw / 2, by + py * hw / 2], [x2, y2],
    [bx - px * hw / 2, by - py * hw / 2], [nx - px * w / 2, ny - py * w / 2],
    [x1 - px * w / 2, y1 - py * w / 2]
  ];
  return {type: 'polygon', z: 80, silent: true, shape: {points: pts}, style: {fill: '#000'}};
}

const els = [];
// slide title (cut at top) and frame
els.push(txt('(Cévennes-Vivarais, 2012)', 543, -13, 'bold 45px ' + FONT, '#000', 'center'));
els.push({type: 'rect', z: 40, silent: true, shape: {x: 36, y: 31.5, width: 1010, height: 2690.5}, style: {fill: 'none', stroke: '#0b2a9b', lineWidth: 4}});

// panel numbers and star
gridTops.forEach((top, p) => {
  segTimes.forEach((t, i) => {
    const x = chart.convertToPixel({xAxisIndex: p}, t);
    els.push(txt(segNames[i], x, top + 23, 'bold 40px ' + FONT, segColors[i], 'center'));
  });
  const sx = chart.convertToPixel({xAxisIndex: p}, starTime);
  els.push(txt('*', sx, top + 68, 'bold 36px ' + FONT, '#FF00FF', 'center'));
});

// big left labels
els.push(...richText(bigLabels[0], 38, 406, 26, 'left'));
const dcL = bigLabels[1].split('\n');
els.push(...richText(dcL[0], 38, 962, 26, 'left'));
els.push(...richText(dcL[1], 38, 992, 26, 'left'));
els.push(...richText(bigLabels[2], 92, 1516, 26, 'left'));
const rL = bigLabels[3].split('\n');
els.push(...richText(rL[0], 49, 2110, 26, 'left'));
els.push(...richText(rL[1], 49, 2142, 26, 'left'));

// arrows
els.push(arrow(-5, 606, 365, 554));
els.push(arrow(-5, 821, 408, 553));
els.push(arrow(1040, 1589, 902, 1702));
els.push(arrow(1040, 1820, 952, 1714));

// legend table
const tL = 216, tR = 952, tT = 2391, tB = 2681;
const colX = [479, 636, 793];
const rowY = [2443, 2522, 2602];
els.push({type: 'rect', z: 40, silent: true, shape: {x: tL, y: tT, width: tR - tL, height: tB - tT}, style: {fill: 'none', stroke: '#000', lineWidth: 3}});
colX.forEach(x => els.push({type: 'line', z: 40, silent: true, shape: {x1: x, y1: tT, x2: x, y2: tB}, style: {stroke: '#000', lineWidth: 1.5}}));
rowY.forEach(y => els.push({type: 'line', z: 40, silent: true, shape: {x1: tL, y1: y, x2: tR, y2: y}, style: {stroke: '#000', lineWidth: 1.5}}));
const colEdges = [colX[0], colX[1], colX[2], tR];
const colCenters = [0, 1, 2].map(i => (colEdges[i] + colEdges[i + 1]) / 2);
tableCols.forEach((s, i) => els.push(...richText(s, colCenters[i], 2413, 24, 'center')));
const rowTextY = [2503, 2582, 2661];
const rowSymY = [2482, 2561, 2640];
tableRows.forEach((s, r) => {
  els.push(...richText(s, 468, rowTextY[r], 26, 'right'));
  tableSymbolColors[r].forEach((c, k) => {
    const cx = colCenters[k], cy = rowSymY[r];
    els.push({type: 'rect', z: 45, silent: true, shape: {x: cx - 8, y: cy - 10, width: 16, height: 20}, style: {fill: 'none', stroke: c, lineWidth: 6}});
    [[-1, -1], [1, -1], [-1, 1], [1, 1]].forEach(([a, b]) =>
      els.push({type: 'circle', z: 46, silent: true, shape: {cx: cx + a * 10, cy: cy + b * 12, r: 3.2}, style: {fill: c}}));
  });
});

chart.setOption({graphic: {elements: els}});
</script></body></html>
